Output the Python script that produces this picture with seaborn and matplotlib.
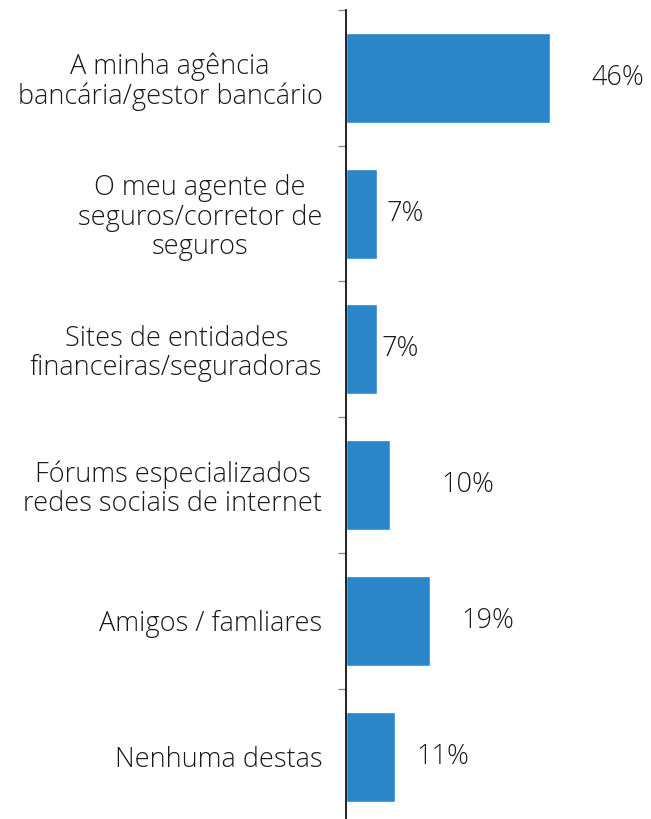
import matplotlib
matplotlib.use("Agg")
import matplotlib.pyplot as plt
import seaborn as sns
import pandas as pd

# Survey answers and shares (%)
categories = [
    "A minha agência\nbancária/gestor bancário",
    "O meu agente de\nseguros/corretor de\nseguros",
    "Sites de entidades\nfinanceiras/seguradoras",
    "Fórums especializados\nredes sociais de internet",
    "Amigos / famliares",
    "Nenhuma destas",
]
values = [46, 7, 7, 10, 19, 11]
value_labels = ["46%", "7%", "7%", "10%", "19%", "11%"]
# horizontal position (in % units) of each value label's centre
label_x = [61.4, 13.3, 12.2, 27.5, 32.0, 21.9]

sns.set_theme(style="white")
plt.rcParams["font.family"] = ["Open Sans", "DejaVu Sans"]

df = pd.DataFrame({"categoria": categories, "valor": values})

W, H = 651, 819
fig = plt.figure(figsize=(W / 100, H / 100), dpi=100)
ax = fig.add_axes([346 / W, 0.0, (W - 346) / W, (H - 10) / H])

sns.barplot(data=df, y="categoria", x="valor", orient="h", color="#2A85C9",
            saturation=1, width=0.663, ax=ax)

ax.set_xlim(0, 305 / 4.435)
ax.set_ylim(5.46, -0.5)
ax.set_xlabel("")
ax.set_ylabel("")
ax.set_xticks([])

for s in ["top", "right", "bottom"]:
    ax.spines[s].set_visible(False)
ax.spines["left"].set_color("#111111")
ax.spines["left"].set_linewidth(1.3)

# separators between categories as major ticks, names as minor tick labels
n = len(categories)
ax.set_yticks([i - 0.5 for i in range(n)])
ax.set_yticklabels([])
ax.set_yticks(range(n), minor=True)
ax.set_yticklabels(categories, minor=True)
ax.tick_params(axis="y", which="major", left=True, length=6, width=1.0,
               color="#888888")
ax.tick_params(axis="y", which="minor", left=False, length=0, pad=17,
               labelsize=19.5, labelcolor="#1a1a1a")
for t in ax.get_yticklabels(minor=True):
    t.set_multialignment("center")
    t.set_linespacing(1.07)
    t.set_fontweight("light")

for i, (lx, txt) in enumerate(zip(label_x, value_labels)):
    ax.text(lx, i, txt, ha="center", va="center", fontsize=19.5,
            color="#1a1a1a", fontweight="light")

fig.savefig("out.png", dpi=100)
